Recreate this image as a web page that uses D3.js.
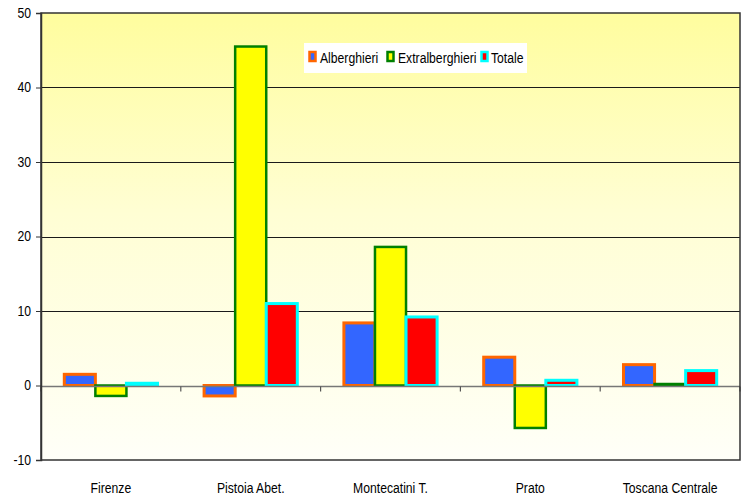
<!DOCTYPE html>
<html>
<head>
<meta charset="utf-8">
<script src="https://cdn.jsdelivr.net/npm/d3@7"></script>
<style>
  html, body { margin: 0; padding: 0; background: #fff; }
  svg { display: block; }
  text { font-family: "Liberation Sans", Arial, sans-serif; fill: #000; }
</style>
</head>
<body>
<svg id="chart" width="746" height="497"></svg>
<script>
// Variazione percentuale presenze per area e tipo di struttura
const categories = ["Firenze", "Pistoia Abet.", "Montecatini T.", "Prato", "Toscana Centrale"];
const seriesNames = ["Alberghieri", "Extralberghieri", "Totale"];
const alberghieri = [1.5, -1.4, 8.4, 3.8, 2.8];
const extralberghieri = [-1.4, 45.5, 18.6, -5.7, 0.2];
const totale = [0.3, 11.0, 9.2, 0.7, 2.0];
const yTicks = [-10, 0, 10, 20, 30, 40, 50];

const fills = ["#3366FF", "#FFFF00", "#FF0000"];
const strokes = ["#FF6600", "#008000", "#00FFFF"];
const values = [alberghieri, extralberghieri, totale];

// condensed look for all labels
const NARROW = 0.87;

const svg = d3.select("#chart");
const plot = { left: 41, right: 740, top: 13, bottom: 460 };

const x = d3.scaleBand().domain(categories).range([plot.left, plot.right]).paddingInner(0).paddingOuter(0);
const xs = d3.scaleBand().domain(seriesNames).range([0, x.bandwidth()]).paddingInner(0).paddingOuter(0.75);
const y = d3.scaleLinear().domain([-10, 50]).range([plot.bottom, plot.top]);

// plot background gradient
const defs = svg.append("defs");
const grad = defs.append("linearGradient").attr("id", "bg").attr("x1", 0).attr("y1", 0).attr("x2", 0).attr("y2", 1);
grad.append("stop").attr("offset", "0%").attr("stop-color", "#FFFD9E");
grad.append("stop").attr("offset", "45%").attr("stop-color", "#FFFED4");
grad.append("stop").attr("offset", "100%").attr("stop-color", "#FFFFF8");

svg.append("rect")
  .attr("x", plot.left).attr("y", plot.top)
  .attr("width", plot.right - plot.left).attr("height", plot.bottom - plot.top)
  .attr("fill", "url(#bg)");

// horizontal gridlines
svg.append("g").selectAll("line")
  .data(yTicks.filter(t => t > 0 && t < 50))
  .join("line")
  .attr("x1", plot.left).attr("x2", plot.right)
  .attr("y1", d => Math.round(y(d)) + 0.5).attr("y2", d => Math.round(y(d)) + 0.5)
  .attr("stroke", "#1a1a1a").attr("stroke-width", 1.2);

// bars
const bars = svg.append("g");
categories.forEach((c, i) => {
  seriesNames.forEach((s, k) => {
    const v = values[k][i];
    const x0 = x(c) + xs(s);
    bars.append("rect")
      .attr("x", x0)
      .attr("y", y(Math.max(0, v)))
      .attr("width", xs.bandwidth())
      .attr("height", Math.abs(y(v) - y(0)))
      .attr("fill", fills[k])
      .attr("stroke", strokes[k])
      .attr("stroke-width", k === 1 ? 2.5 : 3);
  });
});

// zero line with category ticks
const zy = Math.round(y(0)) + 0.5;
svg.append("line")
  .attr("x1", plot.left).attr("x2", plot.right)
  .attr("y1", zy).attr("y2", zy)
  .attr("stroke", "#777").attr("stroke-width", 1.5);
svg.append("g").selectAll("line")
  .data(d3.range(categories.length + 1))
  .join("line")
  .attr("x1", i => plot.left + i * x.step()).attr("x2", i => plot.left + i * x.step())
  .attr("y1", zy).attr("y2", zy + 5)
  .attr("stroke", "#555").attr("stroke-width", 1.2);

// plot frame
svg.append("rect")
  .attr("x", plot.left).attr("y", plot.top)
  .attr("width", plot.right - plot.left).attr("height", plot.bottom - plot.top)
  .attr("fill", "none").attr("stroke", "#333").attr("stroke-width", 1.5);

// y axis (plain hyphen for negatives)
const yAxis = d3.axisLeft(y).tickValues(yTicks).tickSize(5).tickPadding(0).tickFormat(d => String(d));
const ya = svg.append("g").attr("transform", `translate(${plot.left},0)`).call(yAxis);
ya.select(".domain").attr("stroke", "#333").attr("stroke-width", 1.5);
ya.selectAll(".tick line").attr("stroke", "#333");
ya.selectAll(".tick text")
  .attr("font-size", 14)
  .attr("x", -10 / NARROW)
  .attr("transform", `scale(${NARROW},1)`)
  .style("font-family", '"Liberation Sans", Arial, sans-serif');

// category labels
svg.append("g").selectAll("text")
  .data(categories)
  .join("text")
  .attr("transform", d => `translate(${x(d) + x.bandwidth() / 2},493) scale(${NARROW},1)`)
  .attr("text-anchor", "middle")
  .attr("font-size", 14)
  .text(d => d);

// legend
const lg = svg.append("g");
lg.append("rect").attr("x", 304).attr("y", 43).attr("width", 223).attr("height", 30).attr("fill", "#fff");
const swatchX = [308, 386, 480];
const labelX = [320, 398, 491];
seriesNames.forEach((s, k) => {
  lg.append("rect")
    .attr("x", swatchX[k] + 1.5).attr("y", 52)
    .attr("width", 6).attr("height", 9)
    .attr("fill", fills[k]).attr("stroke", strokes[k]).attr("stroke-width", 2.5);
  lg.append("text")
    .attr("transform", `translate(${labelX[k]},63) scale(${NARROW},1)`)
    .attr("font-size", 14)
    .text(s);
});
</script>
</body>
</html>
